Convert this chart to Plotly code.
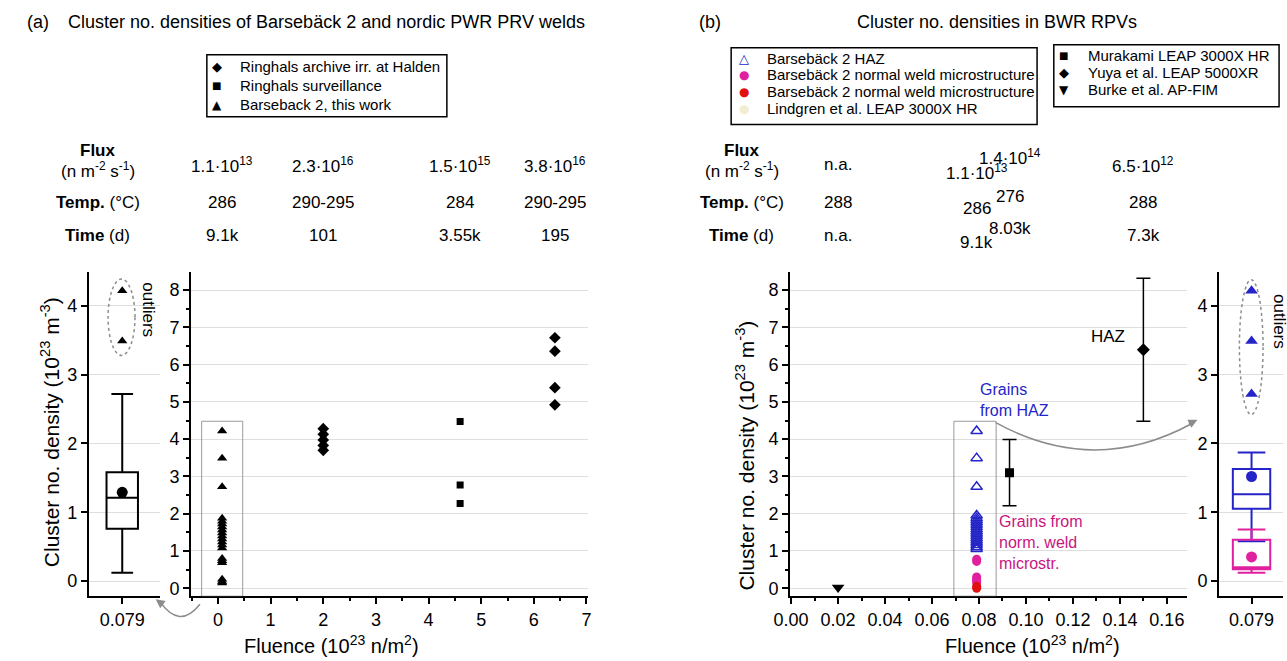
import plotly.graph_objects as go

# ---------------- data ----------------
box_label = ["0.079"]

# panel (a)
halden_x = [2, 2, 2, 2, 2, 6.4, 6.4, 6.4, 6.4]
halden_y = [4.28, 4.13, 3.98, 3.83, 3.70, 6.72, 6.36, 5.38, 4.92]
surv_x = [4.6, 4.6, 4.6]
surv_y = [4.47, 2.77, 2.27]
b2_fluence = 0.079
b2_y = [4.22, 3.49, 2.72, 1.88, 1.80, 1.72, 1.64, 1.56, 1.48, 1.40, 1.32,
        1.24, 1.16, 1.08, 0.80, 0.74, 0.68, 0.24, 0.18, 0.14]
box_a = dict(lowerfence=0.12, q1=0.76, median=1.21, q3=1.58, upperfence=2.72, mean=1.29)
outliers_a = [3.49, 4.22]

# panel (b)
haz_y = [4.22, 3.49, 2.72, 1.95, 1.88, 1.82, 1.76, 1.70, 1.64, 1.58, 1.52,
         1.46, 1.40, 1.34, 1.28, 1.22, 1.16, 1.10, 1.05]
weld_mag_y = [0.78, 0.72, 0.30, 0.25, 0.20, 0.15]
weld_red_y = [0.05, 0.0]
murakami_x, murakami_y, murakami_err = [0.093], [3.10], [0.89]
yuya_x, yuya_y, yuya_err = [0.15], [6.40], [1.92]
burke_x, burke_y = [0.02], [0.02]
box_haz = dict(lowerfence=0.58, q1=1.05, median=1.26, q3=1.63, upperfence=1.87, mean=1.52)
box_weld = dict(lowerfence=0.12, q1=0.17, median=0.20, q3=0.60, upperfence=0.75, mean=0.35)
outliers_b = [2.72, 3.49, 4.22]

# legend entries
legend_a = ["Ringhals archive irr. at Halden", "Ringhals surveillance", "Barseback 2, this work"]
legend_b1 = ["Barsebäck 2 HAZ", "Barsebäck 2 normal weld microstructure",
             "Barsebäck 2 normal weld microstructure", "Lindgren et al. LEAP 3000X HR"]
legend_b2 = ["Murakami LEAP 3000X HR", "Yuya et al. LEAP 5000XR", "Burke et al. AP-FIM"]

# header tables
table_a_fluence = [0.079, 2, 4.6, 6.4]
flux_a = ["1.1·10<sup>13</sup>", "2.3·10<sup>16</sup>", "1.5·10<sup>15</sup>", "3.8·10<sup>16</sup>"]
temp_a = ["286", "290-295", "284", "290-295"]
time_a = ["9.1k", "101", "3.55k", "195"]

table_b_fluence = [0.02, 0.079, 0.093, 0.15]
flux_b = ["n.a.", "1.1·10<sup>13</sup>", "1.4·10<sup>14</sup>", "6.5·10<sup>12</sup>"]
temp_b = ["288", "286", "276", "288"]
time_b = ["n.a.", "9.1k", "8.03k", "7.3k"]

# ---------------- styling ----------------
W, H = 1287, 661
def fx(p): return p / W
def fy(p): return 1 - p / H

FONT = "Liberation Sans, Arial, sans-serif"
SYMF = "DejaVu Sans"
BLUE = "#2424c8"
MAG = "#e0209e"
MAGTXT = "#c8157f"
RED = "#e01010"
GRAY = "#8c8c8c"
GRID = "#dedede"
TICKF = dict(family=FONT, size=18, color="black")

fig = go.Figure()

# ---- (a) box panel ----
fig.add_trace(go.Box(x=box_label, q1=[box_a["q1"]], median=[box_a["median"]], q3=[box_a["q3"]],
                     lowerfence=[box_a["lowerfence"]], upperfence=[box_a["upperfence"]],
                     boxpoints=False, width=0.444, whiskerwidth=0.69,
                     line=dict(color="black", width=2), fillcolor="rgba(0,0,0,0)",
                     xaxis="x", yaxis="y", showlegend=False, hoverinfo="skip"))
fig.add_trace(go.Scatter(x=box_label, y=[box_a["mean"]], mode="markers",
                         marker=dict(symbol="circle", size=11, color="black"),
                         xaxis="x", yaxis="y", showlegend=False))
fig.add_trace(go.Scatter(x=box_label * len(outliers_a), y=outliers_a, mode="markers",
                         marker=dict(symbol="triangle-up", size=9, color="black"),
                         xaxis="x", yaxis="y", showlegend=False))

# ---- (a) scatter panel ----
fig.add_trace(go.Scatter(x=halden_x, y=halden_y, mode="markers", name=legend_a[0],
                         marker=dict(symbol="diamond", size=9, color="black"),
                         xaxis="x2", yaxis="y2", showlegend=False))
fig.add_trace(go.Scatter(x=surv_x, y=surv_y, mode="markers", name=legend_a[1],
                         marker=dict(symbol="square", size=7, color="black"),
                         xaxis="x2", yaxis="y2", showlegend=False))
fig.add_trace(go.Scatter(x=[b2_fluence] * len(b2_y), y=b2_y, mode="markers", name=legend_a[2],
                         marker=dict(symbol="triangle-up", size=9, color="black"),
                         xaxis="x2", yaxis="y2", showlegend=False))

# ---- (b) scatter panel ----
fig.add_trace(go.Scatter(x=[b2_fluence] * len(haz_y), y=haz_y, mode="markers", name=legend_b1[0],
                         marker=dict(symbol="triangle-up-open", size=10, color=BLUE, line=dict(width=1.5)),
                         xaxis="x3", yaxis="y3", showlegend=False))
fig.add_trace(go.Scatter(x=[b2_fluence] * len(weld_mag_y), y=weld_mag_y, mode="markers", name=legend_b1[1],
                         marker=dict(symbol="circle", size=9, color=MAG),
                         xaxis="x3", yaxis="y3", showlegend=False))
fig.add_trace(go.Scatter(x=[b2_fluence] * len(weld_red_y), y=weld_red_y, mode="markers", name=legend_b1[2],
                         marker=dict(symbol="circle", size=9, color=RED),
                         xaxis="x3", yaxis="y3", showlegend=False))
fig.add_trace(go.Scatter(x=murakami_x, y=murakami_y, mode="markers", name=legend_b2[0],
                         marker=dict(symbol="square", size=9, color="black"),
                         error_y=dict(type="data", array=murakami_err, color="black", thickness=1.5, width=7),
                         xaxis="x3", yaxis="y3", showlegend=False))
fig.add_trace(go.Scatter(x=yuya_x, y=yuya_y, mode="markers", name=legend_b2[1],
                         marker=dict(symbol="diamond", size=10, color="black"),
                         error_y=dict(type="data", array=yuya_err, color="black", thickness=1.5, width=7),
                         xaxis="x3", yaxis="y3", showlegend=False))
fig.add_trace(go.Scatter(x=burke_x, y=burke_y, mode="markers", name=legend_b2[2],
                         marker=dict(symbol="triangle-down", size=11, color="black"),
                         xaxis="x3", yaxis="y3", showlegend=False))

# ---- (b) box panel ----
for st, col in ((box_haz, BLUE), (box_weld, MAG)):
    fig.add_trace(go.Box(x=box_label, q1=[st["q1"]], median=[st["median"]], q3=[st["q3"]],
                         lowerfence=[st["lowerfence"]], upperfence=[st["upperfence"]],
                         boxpoints=False, width=0.585, whiskerwidth=0.74,
                         line=dict(color=col, width=2), fillcolor="rgba(0,0,0,0)",
                         xaxis="x4", yaxis="y4", showlegend=False, hoverinfo="skip"))
    fig.add_trace(go.Scatter(x=box_label, y=[st["mean"]], mode="markers",
                             marker=dict(symbol="circle", size=11, color=col),
                             xaxis="x4", yaxis="y4", showlegend=False))
fig.add_trace(go.Scatter(x=box_label * len(outliers_b), y=outliers_b, mode="markers",
                         marker=dict(symbol="triangle-up", size=11, color=BLUE),
                         xaxis="x4", yaxis="y4", showlegend=False))

# ---------------- axes ----------------
def yax(domain, rng, anchor, minor=True):
    d = dict(domain=domain, range=rng, anchor=anchor, dtick=1, tick0=0,
             showline=True, linecolor="black", linewidth=2,
             ticks="outside", ticklen=6, tickwidth=2, tickcolor="black",
             tickfont=TICKF, showgrid=True, gridcolor=GRID, gridwidth=1, zeroline=False)
    if minor:
        d["minor"] = dict(dtick=0.5, ticklen=3, tickwidth=1.5, tickcolor="black", ticks="outside", showgrid=False)
    return d

def xax(domain, rng, anchor, **kw):
    d = dict(domain=domain, range=rng, anchor=anchor,
             showline=True, linecolor="black", linewidth=2,
             ticks="outside", ticklen=6, tickwidth=2, tickcolor="black",
             tickfont=TICKF, showgrid=False, zeroline=False)
    d.update(kw)
    return d

ydom = [fy(598), fy(273)]
fig.update_layout(
    xaxis=xax([fx(73), fx(145)], [-0.472, 0.528], "y", type="category"),
    yaxis=yax(ydom, [-0.22, 4.49], "x", minor=False),
    xaxis2=xax([fx(177), fx(580)], [-0.51, 7.02], "y2", dtick=1, tick0=0,
               minor=dict(dtick=0.5, ticklen=3, tickwidth=1.5, tickcolor="black", ticks="outside")),
    yaxis2=yax(ydom, [-0.214, 8.48], "x2"),
    xaxis3=xax([fx(786), fx(1189)], [-0.0004, 0.1684], "y3", dtick=0.02, tick0=0, tickformat=".2f",
               minor=dict(dtick=0.01, ticklen=3, tickwidth=1.5, tickcolor="black", ticks="outside")),
    yaxis3=yax(ydom, [-0.214, 8.48], "x3"),
    xaxis4=xax([fx(1222), 1.0], [-0.508, 0.492], "y4", type="category"),
    yaxis4=yax(ydom, [-0.22, 4.49], "x4", minor=False),
)

# ---------------- shapes ----------------
shapes = []
shapes.append(dict(type="circle", xref="x", yref="y", x0=-0.2, x1=0.18, y0=3.28, y1=4.39,
                   line=dict(color=GRAY, width=1.5, dash="dot")))
shapes.append(dict(type="circle", xref="x4", yref="y4", x0=-0.19, x1=0.18, y0=2.42, y1=4.38,
                   line=dict(color=GRAY, width=1.5, dash="dot")))
shapes.append(dict(type="rect", xref="x2", yref="y2", x0=-0.31, x1=0.47, y0=-0.214, y1=4.48,
                   line=dict(color="#9a9a9a", width=1)))
shapes.append(dict(type="rect", xref="x3", yref="y3", x0=0.0693, x1=0.0873, y0=-0.214, y1=4.48,
                   line=dict(color="#9a9a9a", width=1)))

def qpath(p0, c, p1):
    return "M %.5f,%.5f Q %.5f,%.5f %.5f,%.5f" % (fx(p0[0]), fy(p0[1]), fx(c[0]), fy(c[1]), fx(p1[0]), fy(p1[1]))

shapes.append(dict(type="path", xref="paper", yref="paper", path=qpath((186, 606), (165, 632), (145, 603)),
                   line=dict(color=GRAY, width=1.5)))
shapes.append(dict(type="path", xref="paper", yref="paper", path=qpath((995, 424), (1095, 478), (1194, 425)),
                   line=dict(color=GRAY, width=1.5)))

# legend boxes
for (x0, y0, x1, y1) in ((193, 55, 437, 117), (726, 48, 1037, 125), (1054, 45, 1283, 107)):
    shapes.append(dict(type="rect", xref="paper", yref="paper", x0=fx(x0), x1=fx(x1), y0=fy(y1), y1=fy(y0),
                       line=dict(color="black", width=1.5), fillcolor="white", layer="below"))
fig.update_layout(shapes=shapes)

# ---------------- annotations ----------------
ann = []
def txt(x, y, s, size=17, color="black", xanchor="center", yanchor="middle", angle=0, xref="paper",
        align="center", family=FONT):
    ann.append(dict(x=x if xref != "paper" else fx(x), y=fy(y), xref=xref, yref="paper", text=s,
                    showarrow=False, xanchor=xanchor, yanchor=yanchor, textangle=angle, align=align,
                    font=dict(family=family, size=size, color=color)))

# titles
txt(8, 22, "(a)", size=18, xanchor="left")
txt(50, 22, "Cluster no. densities of Barsebäck 2 and nordic PWR PRV welds", size=18, xanchor="left")
txt(691, 22, "(b)", size=18, xanchor="left")
txt(996, 22, "Cluster no. densities in BWR RPVs", size=18)

# legends (symbol glyph + label)
def legend_block(sym_x, text_x, ys, labels, glyphs):
    for y, lab, (g, gs, gc) in zip(ys, labels, glyphs):
        txt(sym_x, y, g, size=gs, color=gc, family=SYMF)
        txt(text_x, y, lab, size=15, xanchor="left")

legend_block(203, 225, [67, 86, 105], legend_a,
             [("◆", 13, "black"), ("■", 10, "black"), ("▲", 12, "black")])
legend_block(739, 760, [59, 75, 92, 109], legend_b1,
             [("△", 13, BLUE), ("●", 12, MAG), ("●", 12, RED), ("●", 12, "#f3eecf")])
legend_block(1064, 1087, [56, 73, 90], legend_b2,
             [("■", 10, "black"), ("◆", 13, "black"), ("▼", 12, "black")])

# row labels
for cx in (82, 737):
    txt(cx, 151, "<b>Flux</b>", size=17)
    txt(cx, 171, "(n m<sup>-2</sup> s<sup>-1</sup>)", size=17)
    txt(cx, 203, "<b>Temp.</b> (°C)", size=17)
    txt(cx, 236, "<b>Time</b> (d)", size=17)

row_y = [165, 203, 236]
for i, f in enumerate(table_a_fluence):
    for ry, col in zip(row_y, (flux_a, temp_a, time_a)):
        txt(f, ry, col[i], size=17, xref="x2")
stagger = [[0, 8, -8, 0], [0, 6, -6, 0], [0, 7, -7, 0]]
for i, f in enumerate(table_b_fluence):
    for r, (ry, col) in enumerate(zip(row_y, (flux_b, temp_b, time_b))):
        txt(f, ry + stagger[r][i], col[i], size=17, xref="x3")

# axis titles
ytitle = "Cluster no. density (10<sup>23</sup> m<sup>-3</sup>)"
txt(33, 433, ytitle, size=21, angle=-90)
txt(740, 457, ytitle, size=21, angle=-90)
xtitle = "Fluence (10<sup>23</sup> n/m<sup>2</sup>)"
txt(320, 646, xtitle, size=20)
txt(1032, 646, xtitle, size=20)

# in-plot labels
txt(134, 311, "outliers", size=17, angle=90)
txt(1284, 322, "outliers", size=17, angle=90)
txt(1128, 338, "HAZ", size=17, xanchor="right")
txt(977, 401, "Grains<br>from HAZ", size=16, color=BLUE, xanchor="left", align="left")
txt(996, 544, "Grains from<br>norm. weld<br>microstr.", size=16, color=MAGTXT, xanchor="left", align="left")

# arrowheads
ann.append(dict(x=fx(141), y=fy(601), xref="paper", yref="paper", text="", showarrow=True,
                ax=8, ay=6, arrowhead=2, arrowsize=1.2, arrowwidth=1.5, arrowcolor=GRAY))
ann.append(dict(x=fx(1200), y=fy(421), xref="paper", yref="paper", text="", showarrow=True,
                ax=-10, ay=5, arrowhead=2, arrowsize=1.2, arrowwidth=1.5, arrowcolor=GRAY))

fig.update_layout(annotations=ann)

fig.update_layout(width=W, height=H, margin=dict(l=0, r=0, t=0, b=0),
                  paper_bgcolor="white", plot_bgcolor="white", boxmode="overlay",
                  font=dict(family=FONT, color="black"), showlegend=False)

fig.write_html("out.html")
